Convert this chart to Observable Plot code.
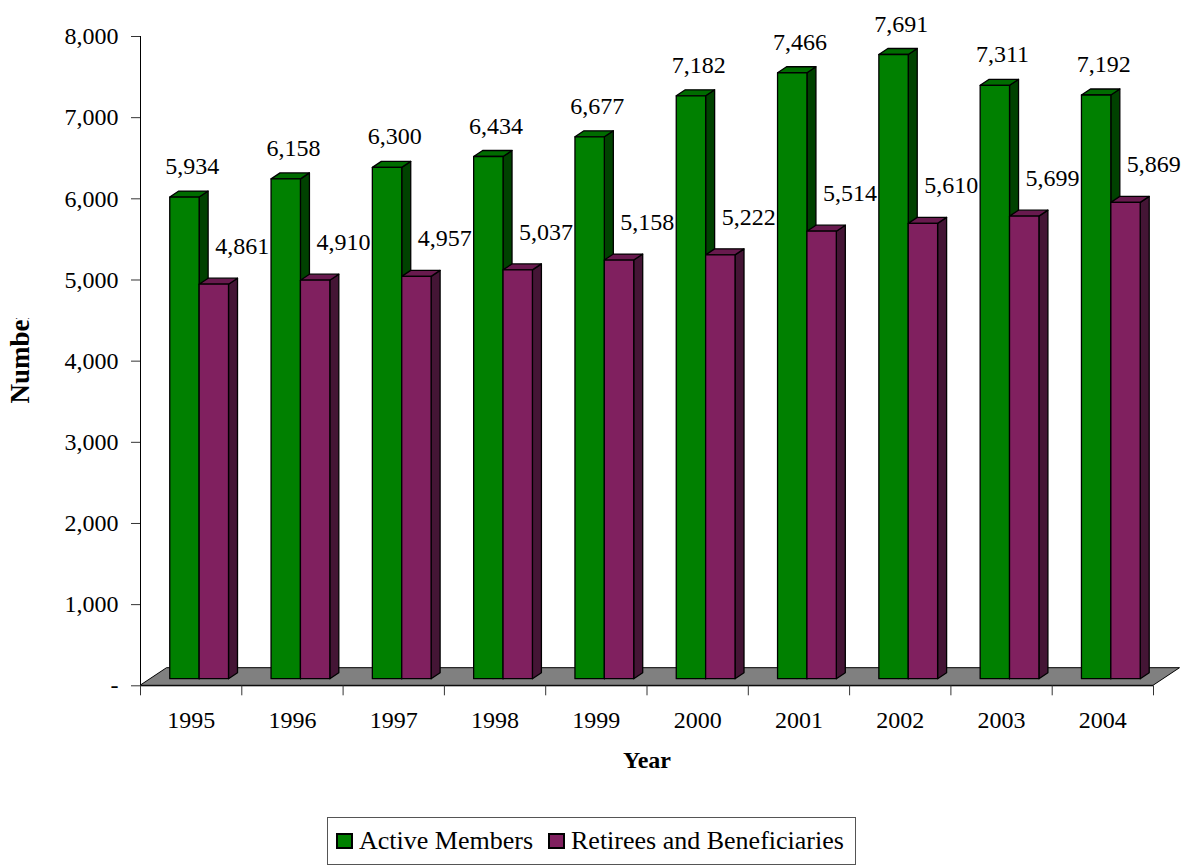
<!DOCTYPE html>
<html>
<head>
<meta charset="utf-8">
<script src="https://cdn.jsdelivr.net/npm/d3@7"></script>
<script src="https://cdn.jsdelivr.net/npm/@observablehq/plot@0.6"></script>
<style>
  html, body { margin: 0; padding: 0; background: #fff; }
  #wrap { position: relative; width: 1203px; height: 865px; font-family: "Liberation Serif", "Times New Roman", serif; }
  #legend { position: absolute; left: 327px; top: 817px; width: 527px; height: 46px; border: 1px solid #555; box-sizing: content-box;
            display: flex; align-items: center; font-size: 26px; color: #000; }
  .sw { display: inline-block; box-sizing: border-box; width: 17px; height: 16px; border: 2px solid #000; margin-right: 6px; }
  .item { display: flex; align-items: center; white-space: nowrap; }
</style>
</head>
<body>
<div id="wrap"><div id="chart"></div>
<div id="legend"></div></div>
<script>
const years = ["1995","1996","1997","1998","1999","2000","2001","2002","2003","2004"];
const activeMembers = [5934, 6158, 6300, 6434, 6677, 7182, 7466, 7691, 7311, 7192];
const retirees = [4861, 4910, 4957, 5037, 5158, 5222, 5514, 5610, 5699, 5869];
const seriesNames = ["Active Members", "Retirees and Beneficiaries"];
const yTicks = [0, 1000, 2000, 3000, 4000, 5000, 6000, 7000, 8000];

const colors = {
  "Active Members": {front: "#008000", top: "#006c00", side: "#004200"},
  "Retirees and Beneficiaries": {front: "#80205f", top: "#681a4e", side: "#441535"}
};

// slot of each series inside a year band (fraction of the band)
const slots = [[0.195, 0.485], [0.485, 0.775]];
const FRONT = {dx: 10, dy: -6.6};   // bars stand a little back on the floor
const DEPTH = {dx: 9, dy: -6};      // bar depth
const FLOOR = {dx: 26.5, dy: -17.6};// floor depth

const rows = [activeMembers, retirees].flatMap((vals, s) =>
  vals.map((v, i) => ({i, year: years[i], series: seriesNames[s], s, value: v})));
const fmt = d3.format(",");

function bars3d(series) {
  const c = colors[series];
  return (index, scales, values) => {
    const g = d3.create("svg:g").attr("stroke", "#000").attr("stroke-width", 1.3).attr("stroke-linejoin", "round");
    const {x1: X1, x2: X2, y1: Y1, y2: Y2} = values;
    for (const i of index) {
      const l = Math.min(X1[i], X2[i]) + FRONT.dx, r = Math.max(X1[i], X2[i]) + FRONT.dx;
      const t = Math.min(Y1[i], Y2[i]) + FRONT.dy, b = Math.max(Y1[i], Y2[i]) + FRONT.dy;
      g.append("polygon").attr("fill", c.side)
        .attr("points", [[r, t], [r + DEPTH.dx, t + DEPTH.dy], [r + DEPTH.dx, b + DEPTH.dy], [r, b]].join(" "));
      g.append("polygon").attr("fill", c.top)
        .attr("points", [[l, t], [l + DEPTH.dx, t + DEPTH.dy], [r + DEPTH.dx, t + DEPTH.dy], [r, t]].join(" "));
      g.append("rect").attr("fill", c.front).attr("x", l).attr("y", t).attr("width", r - l).attr("height", b - t);
    }
    return g.node();
  };
}

function floorRender(index, scales) {
  const x0 = scales.x(0), x1 = scales.x(years.length), y0 = scales.y(0);
  const g = d3.create("svg:g");
  g.append("polygon").attr("fill", "#808080").attr("stroke", "#000").attr("stroke-width", 1)
    .attr("points", [[x0, y0], [x0 + FLOOR.dx, y0 + FLOOR.dy], [x1 + FLOOR.dx, y0 + FLOOR.dy], [x1, y0]].join(" "));
  return g.node();
}

const marks = [
  Plot.ruleY([0], {render: floorRender}),
  ...seriesNames.map((name, s) =>
    Plot.rect(rows.filter(d => d.s === s), {
      x1: d => d.i + slots[s][0], x2: d => d.i + slots[s][1], y1: 0, y2: "value",
      render: bars3d(name)
    })),
  // axes lines
  Plot.ruleX([0], {y1: 0, y2: 8000, stroke: "#000", strokeWidth: 1}),
  Plot.ruleY([0], {stroke: "#000", strokeWidth: 1}),
  Plot.axisY(yTicks, {label: null, tickSize: 9, tickPadding: 13, stroke: "#333", tickFormat: d => d === 0 ? "-" : fmt(d), fontSize: 24, fill: "#000"}),
  Plot.axisX(d3.range(years.length + 1), {label: null, tickSize: 10, tickFormat: () => "", stroke: "#333"}),
  Plot.axisX(years.map((y, i) => i + 0.5), {label: null, tickSize: 0, tickPadding: 25, tickFormat: d => years[Math.floor(d)], fontSize: 24, fill: "#000"}),
  // value labels
  Plot.text(rows.filter(d => d.s === 0), {x: d => d.i + 0.5, y: "value", text: d => fmt(d.value), dx: 1, dy: -37.7, fontSize: 24, fill: "#000"}),
  Plot.text(rows.filter(d => d.s === 1), {x: d => d.i + 0.5, y: "value", text: d => fmt(d.value), dx: 51, dy: -45, fontSize: 24, fill: "#000"}),
  // titles
  Plot.text(["Year"], {frameAnchor: "bottom", lineAnchor: "middle", textAnchor: "middle", dy: 75, fontSize: 24, fontWeight: "bold", fill: "#000"}),
  Plot.text(["Number"], {frameAnchor: "left", lineAnchor: "middle", textAnchor: "middle", rotate: -90, dx: -120.6, dy: -5.6, fontSize: 27, fontWeight: "bold", fill: "#000",
    render: (index, scales, values, dims, ctx, next) => {
      const inner = next(index, scales, values, dims, ctx);
      const g = d3.create("svg:g");
      g.append("clipPath").attr("id", "clip-number").append("rect")
        .attr("x", 0).attr("y", 318).attr("width", 60).attr("height", 200);
      const h = g.append("g").attr("clip-path", "url(#clip-number)");
      h.node().appendChild(inner);
      return g.node();
    }})
];

const chart = Plot.plot({
  width: 1203,
  height: 800,
  marginLeft: 140,
  marginRight: 50,
  marginTop: 36,
  marginBottom: 114.7,
  x: {type: "linear", domain: [0, years.length], axis: null},
  y: {domain: [0, 8000], axis: null},
  style: {fontFamily: "'Liberation Serif', 'Times New Roman', serif", fontSize: "24px", color: "#000", background: "#fff", overflow: "visible"},
  marks
});
document.getElementById("chart").appendChild(chart);

const legend = document.getElementById("legend");
seriesNames.forEach((name, s) => {
  const item = document.createElement("span");
  item.className = "item";
  item.style.marginLeft = s === 0 ? "8px" : "15px";
  const sw = document.createElement("span");
  sw.className = "sw";
  sw.style.background = colors[name].front;
  item.appendChild(sw);
  item.appendChild(document.createTextNode(name));
  legend.appendChild(item);
});
</script>
</body>
</html>
